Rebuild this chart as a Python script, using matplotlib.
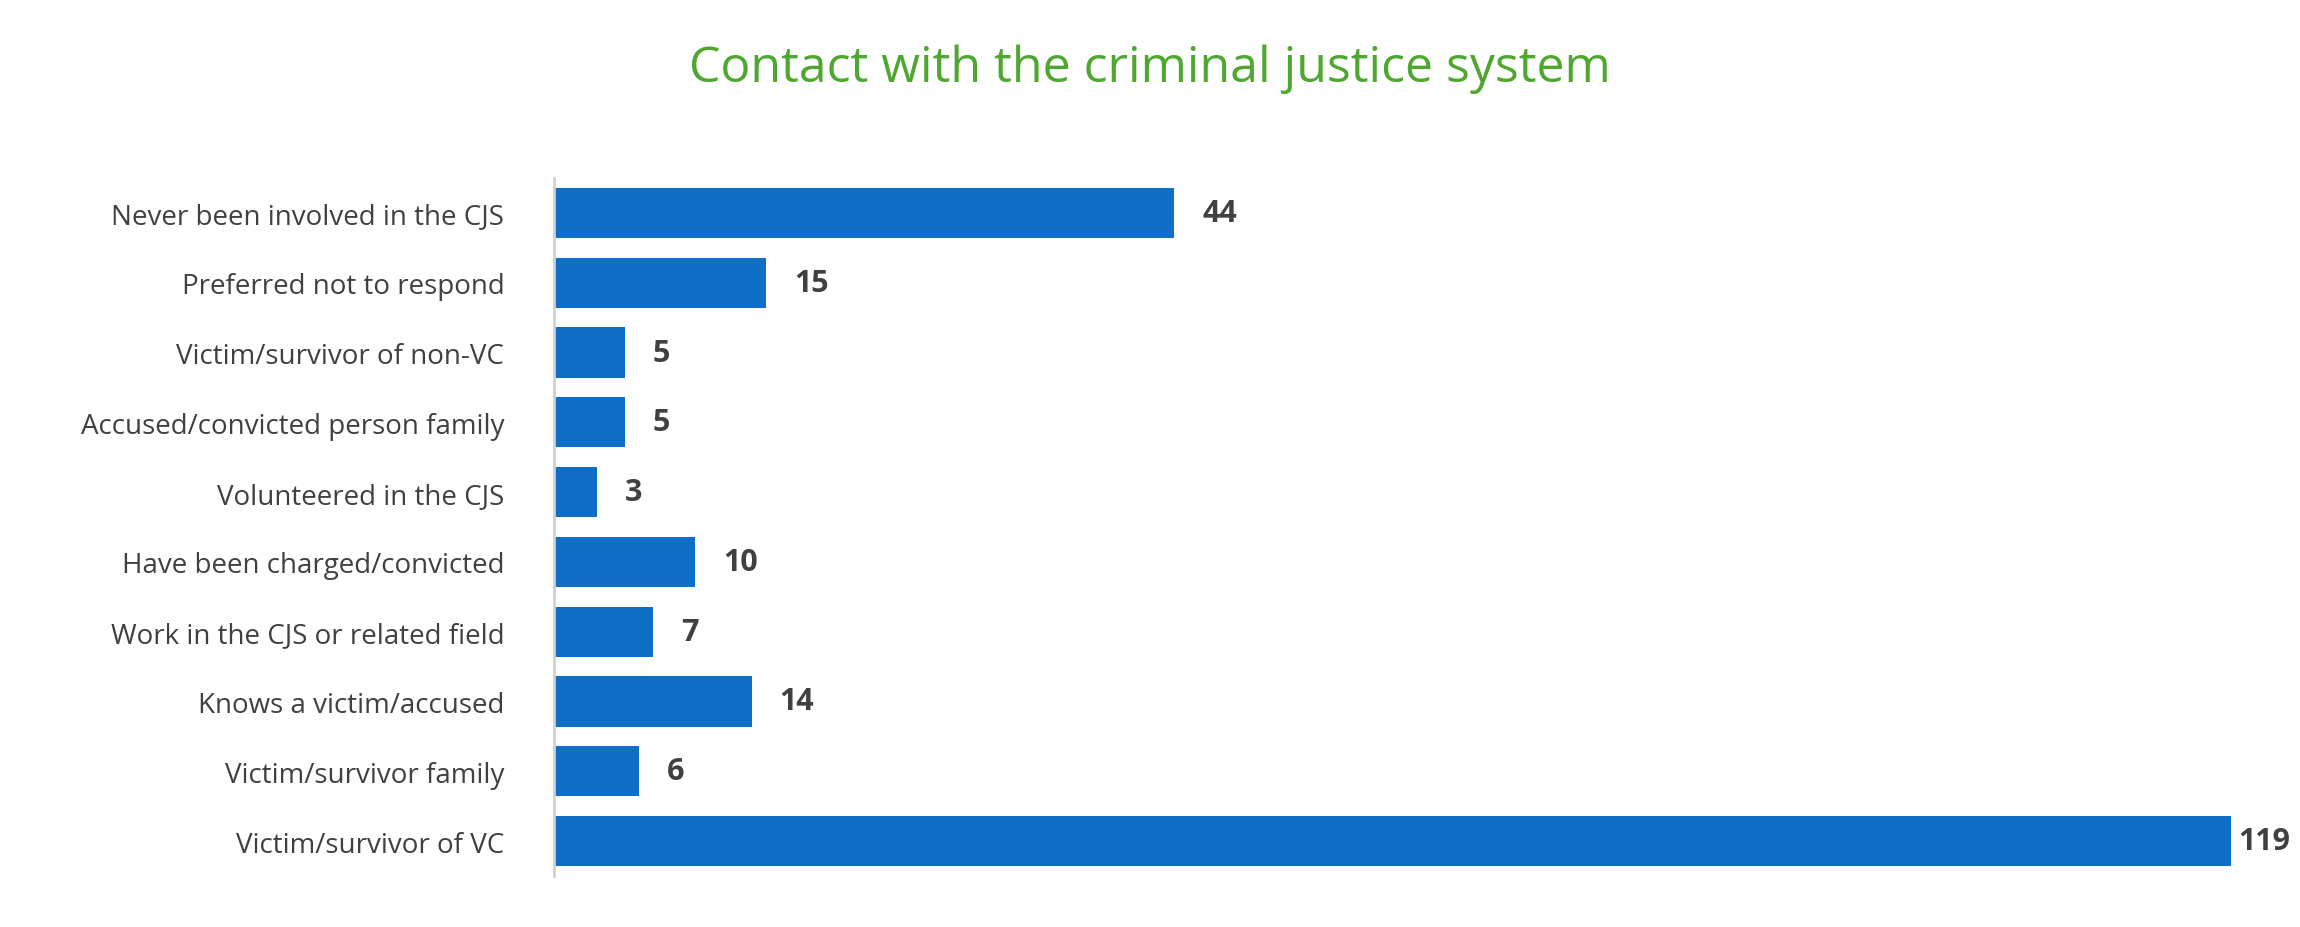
import matplotlib
matplotlib.use("Agg")
import matplotlib.pyplot as plt

categories = ["Never been involved in the CJS", "Preferred not to respond", "Victim/survivor of non-VC",
              "Accused/convicted person family", "Volunteered in the CJS", "Have been charged/convicted",
              "Work in the CJS or related field", "Knows a victim/accused", "Victim/survivor family",
              "Victim/survivor of VC"]
values = [44, 15, 5, 5, 3, 10, 7, 14, 6, 119]

plt.rcParams['font.family'] = ['Open Sans', 'DejaVu Sans']
fig = plt.figure(figsize=(23, 9.28), dpi=100)
ax = fig.add_axes([0.241, 0.055, 0.729, 0.752])
y = list(range(len(categories)))
ax.barh(y, values, height=0.72, color="#0F6FC6")
ax.set_ylim(len(categories) - 0.5, -0.5)
ax.set_xlim(0, 119)
ax.set_yticks(y)
ax.set_yticklabels(categories, fontsize=20, color="#404040")
ax.tick_params(axis='y', length=0, pad=36)
ax.set_xticks([])
for s in ["top", "right", "bottom"]:
    ax.spines[s].set_visible(False)
ax.spines["left"].set_color("#D0D0D0")
ax.spines["left"].set_linewidth(2)
for yi, v in zip(y, values):
    ax.text(v + (2 if v < 100 else 0.5), yi, str(v), va="center", ha="left",
            fontsize=22, fontweight="bold", color="#404040", clip_on=False)
fig.text(0.5, 0.925, "Contact with the criminal justice system", ha="center", va="center",
         fontsize=36, color="#4EA72E")
fig.savefig("out.png", dpi=100, facecolor="white")
